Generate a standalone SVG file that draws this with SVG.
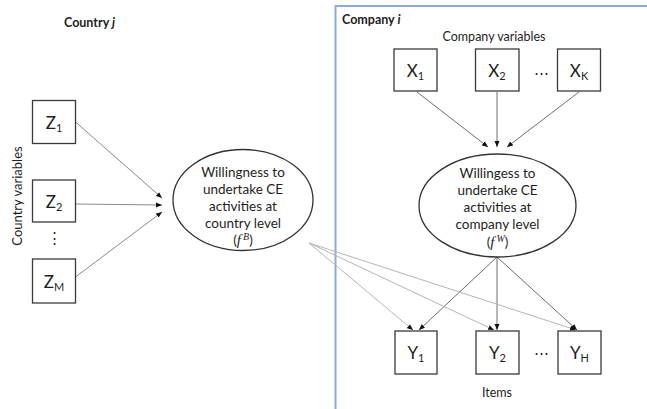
<svg xmlns="http://www.w3.org/2000/svg" width="647" height="409" viewBox="0 0 647 409">
<defs>
<marker id="ah" markerUnits="userSpaceOnUse" markerWidth="7" markerHeight="6" refX="6" refY="3" orient="auto">
<path d="M0,0.5 L6,3 L0,5.5 z" fill="#111"/>
</marker>
<style>
text{font-family:Lato,"Open Sans","Liberation Sans",sans-serif;fill:#1e1e1e}
.box{fill:#fff;stroke:#3a3a3a;stroke-width:1.3}
.ell{fill:#fff;stroke:#333;stroke-width:1.3}
.lbl{font-size:17px;text-anchor:middle}
.sub{font-size:11px}
.et{font-size:13.5px;text-anchor:middle}
.mf{font-family:"Liberation Serif","DejaVu Serif",serif;font-style:italic;font-size:15px}
.ms{font-family:"Liberation Serif","DejaVu Serif",serif;font-style:italic;font-size:10px}
.c1{stroke:#8a8a8a;stroke-width:1;fill:none}
.c2{stroke:#b5b5b5;stroke-width:1;fill:none}
.c3{stroke:#6e6e6e;stroke-width:1;fill:none}
.frame{stroke:#8eaad6;stroke-width:2;fill:none}
.dots{font-size:15px;text-anchor:middle}
</style>
</defs>
<rect width="647" height="409" fill="#fff"/>

<g id="company-frame">
<path class="frame" d="M335.5,410 V6 H650"/>
<text x="342" y="24" font-size="12.5" font-weight="bold">Company <tspan font-style="italic">i</tspan></text>
<text x="494" y="41" font-size="12.5" text-anchor="middle">Company variables</text>
</g>

<g id="country-labels">
<text x="64" y="27" font-size="12.5" font-weight="bold">Country <tspan font-style="italic">j</tspan></text>
<text transform="translate(22,196) rotate(-90)" font-size="13" text-anchor="middle">Country variables</text>
<text class="dots" x="54" y="243">⋮</text>
<text class="dots" x="541" y="78">⋯</text>
<text class="dots" x="541" y="358">⋯</text>
<text x="497" y="397" font-size="12.5" text-anchor="middle">Items</text>
</g>

<g id="connectors">
<line class="c1" x1="75.5" y1="122" x2="162" y2="198" marker-end="url(#ah)"/>
<line class="c1" x1="75.5" y1="204" x2="162" y2="205" marker-end="url(#ah)"/>
<line class="c1" x1="75.5" y1="277" x2="162" y2="212" marker-end="url(#ah)"/>
<line class="c3" x1="417" y1="92" x2="488" y2="147" marker-end="url(#ah)"/>
<line class="c3" x1="497" y1="92" x2="497" y2="147" marker-end="url(#ah)"/>
<line class="c3" x1="579" y1="92" x2="507" y2="147" marker-end="url(#ah)"/>
<line class="c3" x1="497" y1="257" x2="419" y2="330" marker-end="url(#ah)"/>
<line class="c3" x1="497" y1="257" x2="497" y2="330" marker-end="url(#ah)"/>
<line class="c3" x1="497" y1="257" x2="577" y2="330" marker-end="url(#ah)"/>
<line class="c2" x1="309" y1="243" x2="413" y2="330" marker-end="url(#ah)"/>
<line class="c2" x1="309" y1="243" x2="494" y2="330" marker-end="url(#ah)"/>
<line class="c2" x1="309" y1="243" x2="576" y2="330" marker-end="url(#ah)"/>
</g>

<g id="Z1"><rect class="box" x="32.5" y="100.5" width="43" height="43"/><text class="lbl" x="54" y="129">Z<tspan class="sub" dy="3">1</tspan></text></g>
<g id="Z2"><rect class="box" x="32.5" y="180" width="43" height="42"/><text class="lbl" x="54" y="208">Z<tspan class="sub" dy="3">2</tspan></text></g>
<g id="ZM"><rect class="box" x="32.5" y="259" width="43" height="44"/><text class="lbl" x="54" y="288">Z<tspan class="sub" dy="3">M</tspan></text></g>

<g id="X1"><rect class="box" x="394" y="49" width="43" height="42"/><text class="lbl" x="415.5" y="77">X<tspan class="sub" dy="3">1</tspan></text></g>
<g id="X2"><rect class="box" x="475.5" y="49" width="43.5" height="42"/><text class="lbl" x="497" y="77">X<tspan class="sub" dy="3">2</tspan></text></g>
<g id="XK"><rect class="box" x="557.5" y="49" width="43" height="42"/><text class="lbl" x="579" y="77">X<tspan class="sub" dy="3">K</tspan></text></g>

<g id="Y1"><rect class="box" x="395" y="331" width="42" height="43"/><text class="lbl" x="416" y="359">Y<tspan class="sub" dy="3">1</tspan></text></g>
<g id="Y2"><rect class="box" x="476" y="331" width="43" height="43"/><text class="lbl" x="497.5" y="359">Y<tspan class="sub" dy="3">2</tspan></text></g>
<g id="YH"><rect class="box" x="558" y="331" width="43" height="43"/><text class="lbl" x="579.5" y="359">Y<tspan class="sub" dy="3">H</tspan></text></g>

<g id="country-factor">
<ellipse class="ell" cx="243" cy="200" rx="70" ry="50.5"/>
<text class="et" x="243" y="177">Willingness to</text>
<text class="et" x="243" y="194">undertake CE</text>
<text class="et" x="243" y="211">activities at</text>
<text class="et" x="243" y="228">country level</text>
<text class="et" x="243" y="245">(<tspan class="mf">f</tspan><tspan class="ms" dx="2" dy="-5">B</tspan><tspan dy="5">)</tspan></text>
</g>

<g id="company-factor">
<ellipse class="ell" cx="497.5" cy="205.5" rx="78.5" ry="51.5"/>
<text class="et" x="497.5" y="178">Willingess to</text>
<text class="et" x="497.5" y="195">undertake CE</text>
<text class="et" x="497.5" y="212">activities at</text>
<text class="et" x="497.5" y="229">company level</text>
<text class="et" x="497.5" y="247">(<tspan class="mf">f</tspan><tspan class="ms" dx="2" dy="-5">W</tspan><tspan dy="5">)</tspan></text>
</g>
</svg>
